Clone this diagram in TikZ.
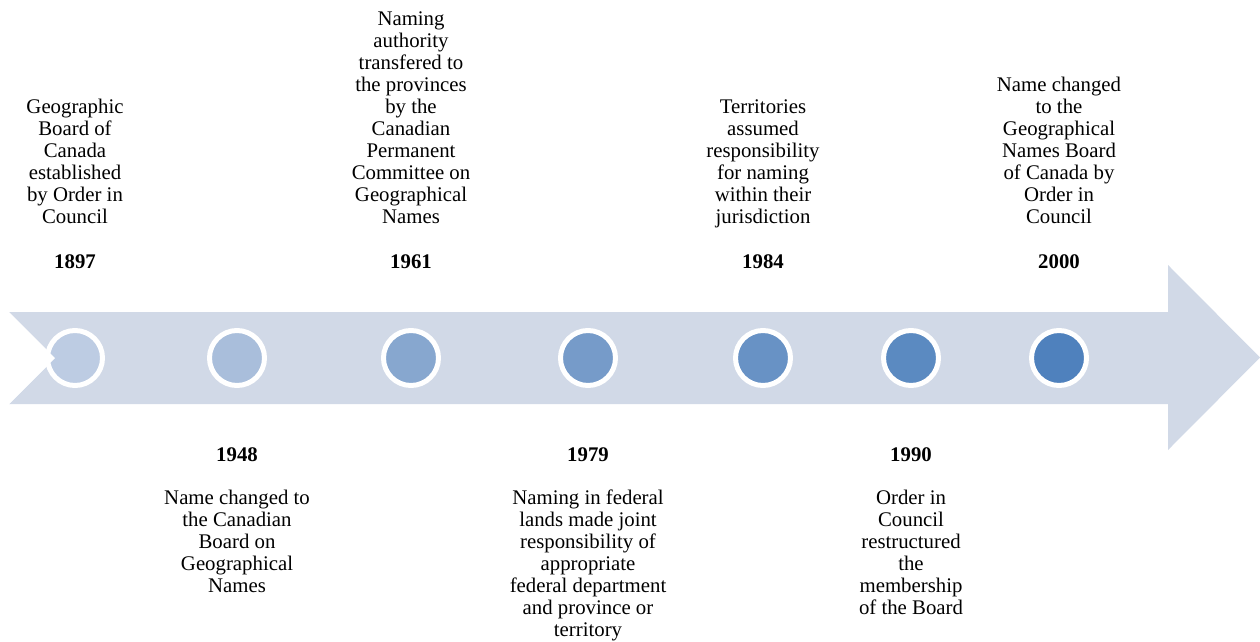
\documentclass[tikz,border=0pt]{standalone}
\usepackage{fontspec}
\setmainfont{Liberation Serif}
\definecolor{band}{RGB}{209,217,231}
\definecolor{ca}{RGB}{189,204,227}
\definecolor{cb}{RGB}{169,190,219}
\definecolor{cc}{RGB}{135,167,207}
\definecolor{cd}{RGB}{118,155,201}
\definecolor{ce}{RGB}{104,146,197}
\definecolor{cf}{RGB}{91,138,193}
\definecolor{cg}{RGB}{79,129,189}
\tikzset{
  dot/.style={circle, draw=white, line width=5pt, inner sep=0pt, minimum size=55pt},
  desc/.style={align=center, anchor=base, inner sep=0pt, font=\fontsize{20.8}{22}\selectfont},
  yr/.style={anchor=base, inner sep=0pt, font=\fontsize{20.8}{22}\selectfont\bfseries}
}
\begin{document}
\begin{tikzpicture}[x=1pt, y=-1pt]
\useasboundingbox (0,0) rectangle (1260,642);
% arrow band
\fill[band] (9,312) -- (1168,312) -- (1168,265) -- (1260,357.5) -- (1168,450) -- (1168,404) -- (9,404) -- (55,358) -- cycle;
% circles
\node[dot, fill=ca] (d1) at (75,358) {};
\node[dot, fill=cb] (d2) at (237,358) {};
\node[dot, fill=cc] (d3) at (411,358) {};
\node[dot, fill=cd] (d4) at (588,358) {};
\node[dot, fill=ce] (d5) at (763,358) {};
\node[dot, fill=cf] (d6) at (911,358) {};
\node[dot, fill=cg] (d7) at (1059,358) {};
\fill[white] (0,312) -- (9,312) -- (55,358) -- (9,404) -- (0,404) -- cycle;
% years
\node[yr] (y1) at (75,268) {1897};
\node[yr] (y2) at (237,461) {1948};
\node[yr] (y3) at (411,268) {1961};
\node[yr] (y4) at (588,461) {1979};
\node[yr] (y5) at (763,268) {1984};
\node[yr] (y6) at (911,461) {1990};
\node[yr] (y7) at (1059,268) {2000};
% descriptions (anchor at last baseline)
\node[desc] (t1) at (75,223) {Geographic\\Board of\\Canada\\established\\by Order in\\Council};
\node[desc] (t2) at (237,592) {Name changed to\\the Canadian\\Board on\\Geographical\\Names};
\node[desc] (t3) at (411,223) {Naming\\authority\\transfered to\\the provinces\\by the\\Canadian\\Permanent\\Committee on\\Geographical\\Names};
\node[desc] (t4) at (588,636) {Naming in federal\\lands made joint\\responsibility of\\appropriate\\federal department\\and province or\\territory};
\node[desc] (t5) at (763,223) {Territories\\assumed\\responsibility\\for naming\\within their\\jurisdiction};
\node[desc] (t6) at (911,614) {Order in\\Council\\restructured\\the\\membership\\of the Board};
\node[desc] (t7) at (1059,223) {Name changed\\to the\\Geographical\\Names Board\\of Canada by\\Order in\\Council};
\end{tikzpicture}
\end{document}
